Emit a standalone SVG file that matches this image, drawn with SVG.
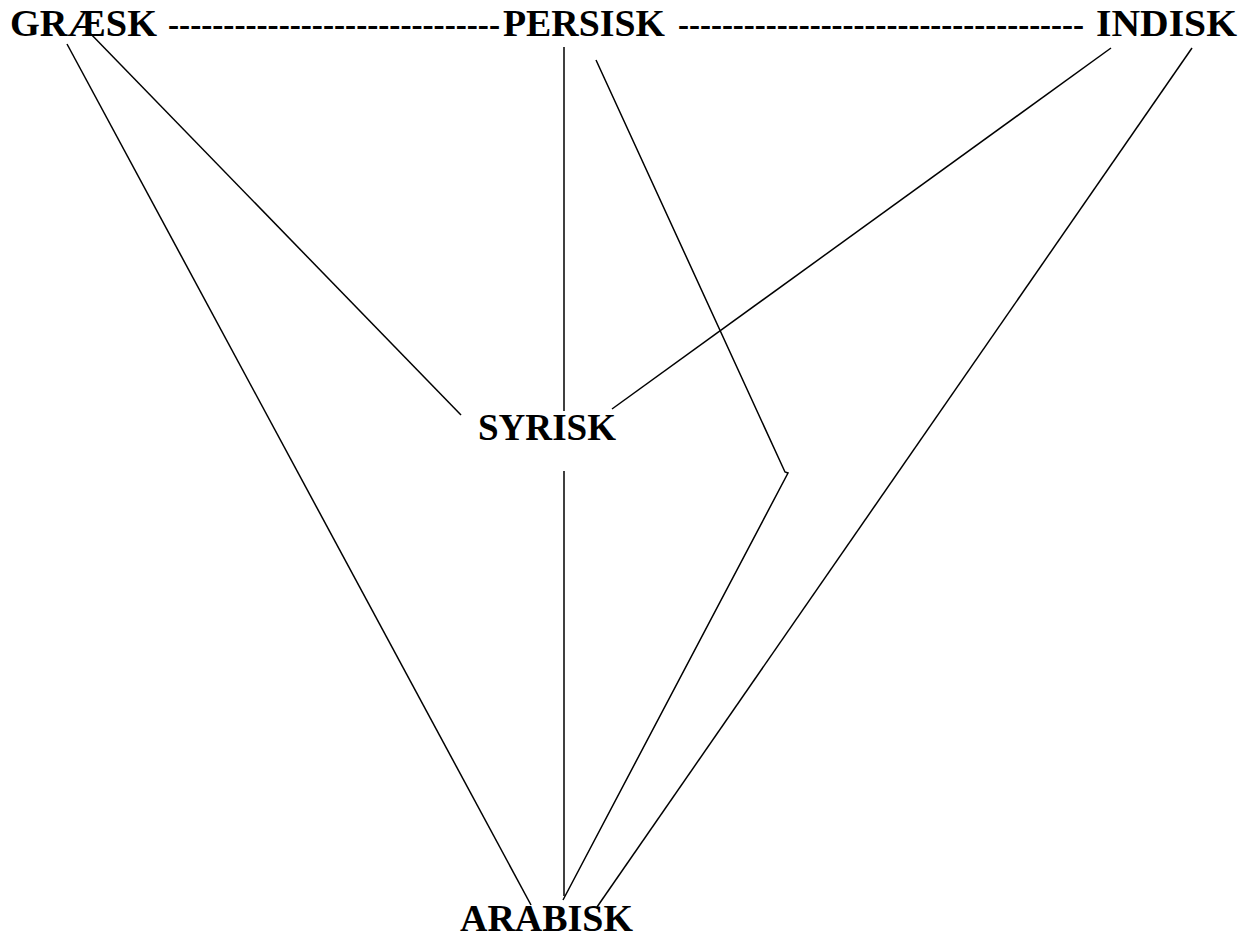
<svg xmlns="http://www.w3.org/2000/svg" width="1250" height="938" viewBox="0 0 1250 938">
<style>
.t{font-family:"Liberation Serif","Times New Roman",serif;font-weight:bold;font-size:38px;fill:#000}
.d{font-family:"Liberation Serif","Times New Roman",serif;font-weight:bold;font-size:33px;fill:#000}
.c line,.c polyline{stroke:#000;stroke-width:1.5;fill:none}
</style>
<rect width="1250" height="938" fill="#fff"/>
<g id="graesk"><text class="t" x="10" y="36" textLength="147" lengthAdjust="spacingAndGlyphs">GRÆSK</text></g>
<g id="dash1"><text class="d" x="168" y="36" textLength="332" lengthAdjust="spacingAndGlyphs">------------------------------</text></g>
<g id="persisk"><text class="t" x="503" y="36" textLength="162" lengthAdjust="spacingAndGlyphs">PERSISK</text></g>
<g id="dash2"><text class="d" x="678" y="36" textLength="406" lengthAdjust="spacingAndGlyphs">-------------------------------------</text></g>
<g id="indisk"><text class="t" x="1096" y="36" textLength="141" lengthAdjust="spacingAndGlyphs">INDISK</text></g>
<g id="syrisk"><text class="t" x="478" y="440" textLength="138" lengthAdjust="spacingAndGlyphs">SYRISK</text></g>
<g id="arabisk"><text class="t" x="460" y="931" textLength="173" lengthAdjust="spacingAndGlyphs">ARABISK</text></g>
<g class="c" id="connectors">
<line x1="67" y1="44" x2="531" y2="905"/>
<line x1="87" y1="30" x2="461" y2="415"/>
<line x1="564" y1="47" x2="564" y2="411"/>
<line x1="564" y1="471" x2="564" y2="896"/>
<polyline points="596,60 785,472 788,473 563,900"/>
<line x1="1111" y1="48" x2="612" y2="409"/>
<line x1="1192" y1="48" x2="597" y2="907"/>
</g>
</svg>
